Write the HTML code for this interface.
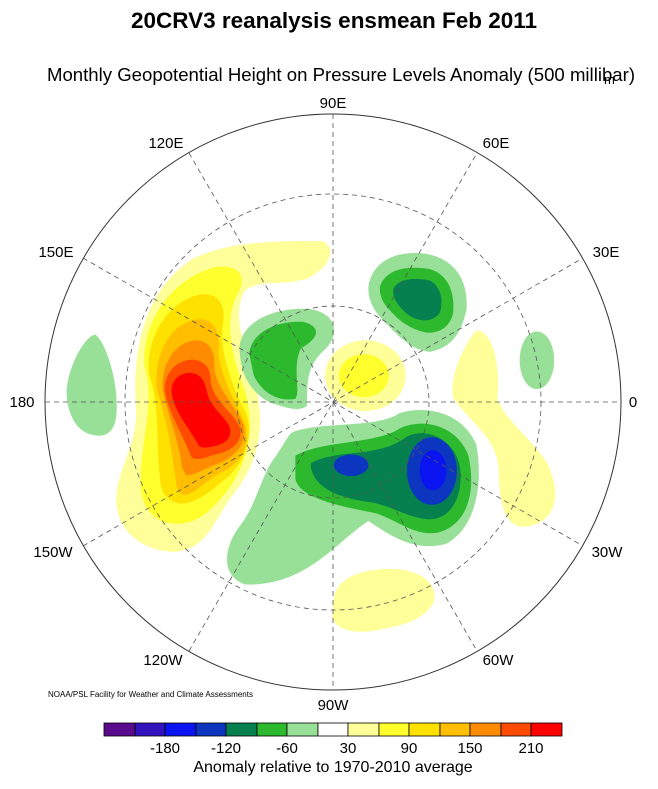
<!DOCTYPE html>
<html><head><meta charset="utf-8"><style>
body{margin:0;background:#fff;width:658px;height:784px;overflow:hidden;font-family:"Liberation Sans",sans-serif}
</style></head><body>
<svg width="658" height="784" viewBox="0 0 658 784" xmlns="http://www.w3.org/2000/svg" font-family="Liberation Sans, sans-serif">
<text x="334" y="28" font-size="22.5" font-weight="bold" text-anchor="middle">20CRV3 reanalysis ensmean Feb 2011</text>
<text x="341" y="81" font-size="18.6" text-anchor="middle">Monthly Geopotential Height on Pressure Levels Anomaly (500 millibar)</text>
<text x="604" y="84" font-size="13">m</text>
<defs><clipPath id="c"><circle cx="333" cy="402" r="288"/></clipPath></defs>
<g clip-path="url(#c)">
<g transform="translate(30,98) scale(0.3846)">
<path fill="#ffff99" d="M225,1060 C215,980 285,900 275,800 C265,650 300,500 420,420 C500,380 600,370 760,372 C800,390 780,440 720,470 C650,490 600,470 560,500 C520,560 560,650 590,760 C610,860 595,950 525,1035 C475,1105 460,1170 380,1180 C300,1180 235,1135 225,1060 Z"/>
<path fill="#ffff2e" d="M288,1010 C283,900 328,800 298,700 C288,580 370,470 480,440 C545,430 565,465 540,510 C505,570 520,660 558,760 C588,860 568,950 508,1028 C458,1088 420,1115 360,1105 C310,1095 290,1050 288,1010 Z"/>
<path fill="#ffe100" d="M338,990 C328,900 338,800 310,720 C300,610 370,520 450,510 C500,510 510,550 500,600 C495,670 530,760 562,820 C582,880 562,950 502,995 C452,1040 410,1062 380,1052 C350,1042 340,1020 338,990 Z"/>
<path fill="#ffbe00" d="M380,1000 C370,930 360,850 330,760 C320,660 370,580 440,575 C485,575 495,620 490,660 C495,730 540,800 560,850 C575,900 550,950 495,975 C455,995 420,1040 395,1030 C385,1025 381,1012 380,1000 Z"/>
<path fill="#ff8c00" d="M395,960 C390,900 360,830 345,760 C340,690 380,630 435,630 C480,635 480,680 480,710 C490,760 540,810 555,850 C565,895 540,930 490,950 C450,965 420,985 405,980 Z"/>
<path fill="#ff4b00" d="M420,935 C400,880 360,820 350,760 C350,710 385,680 425,680 C465,685 470,715 470,740 C480,790 530,820 545,855 C555,890 530,915 490,925 C460,932 440,945 420,935 Z"/>
<path fill="#ff0000" d="M440,905 C415,860 370,810 368,760 C368,730 395,712 420,715 C455,720 455,750 465,780 C480,815 515,835 520,860 C525,885 505,900 480,905 C465,908 450,912 440,905 Z"/>
<path fill="#98e098" d="M170,615 C200,640 230,740 225,820 C222,870 195,880 175,878 C120,875 95,820 95,760 C100,700 140,620 170,615 Z"/>
<path fill="#98e098" d="M545,660 C540,590 620,545 720,548 C800,555 810,620 760,660 C720,700 720,740 720,800 C700,820 650,800 620,790 C570,760 550,720 545,660 Z"/>
<path fill="#2db92d" d="M570,665 C575,610 640,578 710,582 C765,595 745,630 705,650 C680,700 705,760 690,782 C640,792 600,760 582,722 Z"/>
<path fill="#98e098" d="M880,490 C890,420 960,395 1030,405 C1110,420 1140,480 1135,550 C1120,620 1090,650 1040,660 C990,655 960,620 920,580 C890,550 878,520 880,490 Z"/>
<path fill="#2db92d" d="M910,490 C925,445 980,435 1040,445 C1090,460 1105,510 1100,560 C1090,600 1060,612 1030,610 C980,600 950,570 925,540 C912,522 908,505 910,490 Z"/>
<path fill="#078050" d="M945,495 C960,470 1000,465 1040,475 C1070,490 1075,530 1065,560 C1045,585 1010,582 985,565 C960,545 940,520 945,495 Z"/>
<ellipse cx="872" cy="722" rx="105" ry="92" fill="#ffff99"/>
<ellipse cx="868" cy="722" rx="65" ry="56" fill="#ffff2e"/>
<ellipse cx="1318" cy="682" rx="45" ry="75" fill="#98e098"/>
<path fill="#ffff99" d="M1160,605 C1200,600 1225,690 1215,780 C1235,840 1300,880 1345,950 C1385,1030 1370,1110 1280,1115 C1228,1110 1220,1040 1218,960 C1210,880 1150,850 1100,780 C1090,720 1130,640 1160,605 Z"/>
<path fill="#ffff99" d="M790,1300 C800,1240 880,1220 960,1225 C1030,1235 1060,1270 1050,1310 C1030,1350 980,1370 920,1380 C860,1395 800,1390 785,1350 Z"/>
<path fill="#98e098" d="M680,870 C750,840 900,860 960,820 C1020,800 1120,810 1160,900 C1180,1000 1160,1120 1080,1160 C1000,1180 940,1140 880,1100 C800,1150 720,1270 560,1265 C500,1245 500,1180 540,1120 C590,1060 600,980 640,930 C660,900 670,880 680,870 Z"/>
<path fill="#2db92d" d="M690,930 C760,890 900,900 960,860 C1020,830 1110,850 1140,930 C1160,1020 1140,1110 1060,1130 C1000,1140 960,1100 900,1080 C800,1060 700,1040 690,990 Z"/>
<path fill="#078050" d="M730,950 C800,910 900,940 980,880 C1040,850 1120,900 1120,980 C1120,1060 1080,1100 1030,1095 C980,1090 940,1060 880,1050 C800,1040 730,1010 730,950 Z"/>
<ellipse cx="1045" cy="970" rx="65" ry="88" fill="#0c36c0"/>
<ellipse cx="835" cy="955" rx="45" ry="28" fill="#0c36c0"/>
<ellipse cx="1048" cy="968" rx="35" ry="52" fill="#0a14f0"/>
</g>
<g fill="none" stroke="#555" stroke-width="0.8" stroke-dasharray="5,4">
<circle cx="333" cy="402" r="96"/>
<circle cx="333" cy="402" r="208"/>
<line x1="45" y1="402" x2="621" y2="402"/>
<line x1="333" y1="114" x2="333" y2="690"/>
<line x1="83" y1="258" x2="583" y2="546"/>
<line x1="83" y1="546" x2="583" y2="258"/>
<line x1="189" y1="153" x2="477" y2="651"/>
<line x1="189" y1="651" x2="477" y2="153"/>
</g>
</g>
<circle cx="333" cy="402" r="288" fill="none" stroke="#333" stroke-width="1"/>
<g font-size="15" text-anchor="middle">
<text x="333" y="108">90E</text>
<text x="166" y="148">120E</text>
<text x="496" y="148">60E</text>
<text x="56" y="257">150E</text>
<text x="606" y="257">30E</text>
<text x="22" y="407">180</text>
<text x="633" y="407">0</text>
<text x="53" y="557">150W</text>
<text x="607" y="557">30W</text>
<text x="163" y="665">120W</text>
<text x="498" y="665">60W</text>
<text x="333" y="710">90W</text>
</g>
<text x="48" y="697" font-size="8">NOAA/PSL Facility for Weather and Climate Assessments</text>
<g stroke="#000" stroke-width="0.8">
<rect x="104" y="723" width="31" height="13" fill="#5a0a8c"/>
<rect x="135" y="723" width="30" height="13" fill="#3214be"/>
<rect x="165" y="723" width="31" height="13" fill="#0a14f0"/>
<rect x="196" y="723" width="30" height="13" fill="#0c36c0"/>
<rect x="226" y="723" width="31" height="13" fill="#078050"/>
<rect x="257" y="723" width="30" height="13" fill="#2db92d"/>
<rect x="287" y="723" width="31" height="13" fill="#98e098"/>
<rect x="318" y="723" width="30" height="13" fill="#fff"/>
<rect x="348" y="723" width="31" height="13" fill="#ffff99"/>
<rect x="379" y="723" width="30" height="13" fill="#ffff2e"/>
<rect x="409" y="723" width="31" height="13" fill="#ffe100"/>
<rect x="440" y="723" width="30" height="13" fill="#ffbe00"/>
<rect x="470" y="723" width="31" height="13" fill="#ff8c00"/>
<rect x="501" y="723" width="30" height="13" fill="#ff4b00"/>
<rect x="531" y="723" width="31" height="13" fill="#ff0000"/>
</g>
<g font-size="15" text-anchor="middle">
<text x="165" y="753">-180</text>
<text x="226" y="753">-120</text>
<text x="287" y="753">-60</text>
<text x="348" y="753">30</text>
<text x="409" y="753">90</text>
<text x="470" y="753">150</text>
<text x="531" y="753">210</text>
<text x="333" y="772" font-size="16">Anomaly relative to 1970-2010 average</text>
</g>
</svg>
</body></html>
